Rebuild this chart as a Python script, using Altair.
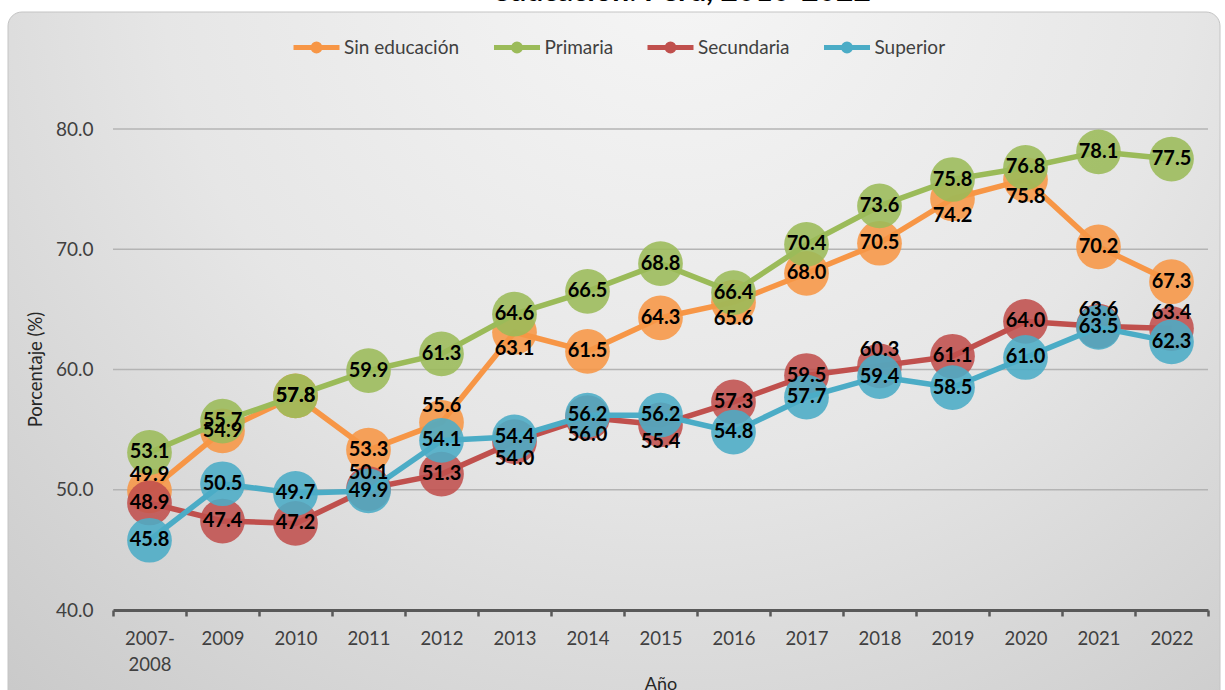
import altair as alt
import pandas as pd

# ---------------- data ----------------
years = ["2007-2008", "2009", "2010", "2011", "2012", "2013", "2014", "2015",
         "2016", "2017", "2018", "2019", "2020", "2021", "2022"]
series = ["Sin educación", "Primaria", "Secundaria", "Superior"]

sin_educacion = [49.9, 54.9, 57.8, 53.3, 55.6, 63.1, 61.5, 64.3, 65.6, 68.0, 70.5, 74.2, 75.8, 70.2, 67.3]
primaria = [53.1, 55.7, 57.8, 59.9, 61.3, 64.6, 66.5, 68.8, 66.4, 70.4, 73.6, 75.8, 76.8, 78.1, 77.5]
secundaria = [48.9, 47.4, 47.2, 50.1, 51.3, 54.0, 56.0, 55.4, 57.3, 59.5, 60.3, 61.1, 64.0, 63.6, 63.4]
superior = [45.8, 50.5, 49.7, 49.9, 54.1, 54.4, 56.2, 56.2, 54.8, 57.7, 59.4, 58.5, 61.0, 63.5, 62.3]

# label placement keyword per point (c = centred, a = above, b = below)
pos_sin = ["a", "c", "c", "c", "a", "b", "c", "c", "b", "c", "c", "b", "b", "c", "c"]
pos_pri = ["c"] * 15
pos_sec = ["c", "c", "c", "a", "c", "b", "b", "b", "c", "c", "a", "c", "c", "a", "a"]
pos_sup = ["c"] * 15

colors = ["#F79646", "#9BBB59", "#C0504D", "#4BACC6"]
title_text = "educación: Perú, 2010-2022"
y_ticks = [40, 50, 60, 70, 80]
grid_values = [50, 60, 70, 80]

values = [sin_educacion, primaria, secundaria, superior]
positions = [pos_sin, pos_pri, pos_sec, pos_sup]
rows = []
for s, vals, poss in zip(series, values, positions):
    for yr, v, p in zip(years, vals, poss):
        rows.append({"Año": yr, "Serie": s, "Valor": v, "Pos": p})
df = pd.DataFrame(rows)

# ---------------- layout ----------------
W, H = 1095, 481
PAD = {"left": 113, "top": 129, "right": 17, "bottom": 80}
FONT = "Lato"

x_enc = alt.X(
    "Año:N", sort=years,
    scale=alt.Scale(type="band", paddingInner=0, paddingOuter=0),
    axis=alt.Axis(
        title="Año", labelAngle=0,
        labelExpr="datum.value == '2007-2008' ? ['2007-', '2008'] : datum.value",
        labelFont=FONT, labelFontSize=18.5, labelColor="#404040", labelLineHeight=26,
        labelPadding=13, labelBaseline="top",
        tickBand="extent", ticks=True, tickSize=6, tickWidth=2.5, tickColor="#595959",
        domain=True, domainColor="#595959", domainWidth=3,
        grid=False, zindex=1,
        titleFont=FONT, titleFontSize=18, titleFontWeight="normal", titleColor="#262626",
        titleY=79, titleBaseline="alphabetic",
    ),
)
y_enc = alt.Y(
    "Valor:Q",
    scale=alt.Scale(domain=[40, 80], nice=False, zero=False),
    axis=alt.Axis(
        title="Porcentaje (%)", values=y_ticks, format=".1f",
        labelFont=FONT, labelFontSize=19, labelColor="#404040", labelPadding=20,
        ticks=False, tickSize=0, domain=False,
        grid=False, zindex=1,
        titleFont=FONT, titleFontSize=18.5, titleFontWeight="normal", titleColor="#262626",
        titleAngle=270, titleX=-78, titleY=240, titleAlign="center", titleBaseline="middle",
    ),
)

legend_path = ("M-1,0 L1,0 "
               "M0.15,0 A0.15,0.15 0 1,1 -0.15,0 A0.15,0.15 0 1,1 0.15,0 "
               "M0.05,0 A0.05,0.05 0 1,1 -0.05,0 A0.05,0.05 0 1,1 0.05,0")

color_enc = alt.Color(
    "Serie:N",
    scale=alt.Scale(domain=series, range=colors),
    legend=alt.Legend(
        orient="none", legendX=178, legendY=-107, direction="horizontal",
        title=None, symbolType=legend_path, symbolSize=2116, symbolStrokeWidth=5,
        labelFont=FONT, labelFontSize=19, labelColor="#404040", labelOffset=2,
        columnPadding=23.5, padding=0,
    ),
)
fill_enc = alt.Fill("Serie:N", scale=alt.Scale(domain=series, range=colors), legend=None)

# background panel
bg = alt.Chart(pd.DataFrame({"k": [0]})).mark_rect(
    cornerRadius=14,
    stroke="#c4c4c4", strokeWidth=1,
    color=alt.RadialGradient(
        gradient="radial",
        stops=[alt.GradientStop(color="#f6f6f6", offset=0),
               alt.GradientStop(color="#e6e6e6", offset=0.5),
               alt.GradientStop(color="#c8c8c8", offset=1)],
        x1=0.55, y1=0.15, r1=0, x2=0.55, y2=0.15, r2=0.85,
    ),
).encode(x=alt.value(-105), x2=alt.value(1107), y=alt.value(-117), y2=alt.value(600))

title_layer = alt.Chart(pd.DataFrame({"t": [title_text]})).mark_text(
    font=FONT, fontSize=30, fontWeight="bold", color="#000000",
    align="center", baseline="alphabetic",
).encode(x=alt.value(569), y=alt.value(-128), text="t:N")

grid = alt.Chart(pd.DataFrame({"Valor": grid_values})).mark_rule(
    color="#b4b4b4", strokeWidth=1.5
).encode(y=y_enc)

layers = [bg, title_layer, grid]
base = alt.Chart(df)
for s in series:
    sub = base.transform_filter(alt.datum.Serie == s)
    layers.append(sub.mark_line(strokeWidth=5.5, strokeJoin="round").encode(
        x=x_enc, y=y_enc, color=color_enc))
    layers.append(sub.mark_circle(size=2000, opacity=0.88, strokeWidth=0).encode(
        x=x_enc, y=y_enc, fill=fill_enc))

offsets = {"c": 0, "a": -16, "b": 17}
for p, dy in offsets.items():
    layers.append(base.transform_filter(alt.datum.Pos == p).mark_text(
        font=FONT, fontSize=20, fontWeight="bold", color="#000000",
        align="center", baseline="middle", dy=dy,
    ).encode(x=x_enc, y=y_enc, text=alt.Text("Valor:Q", format=".1f")))

chart = alt.layer(*layers).properties(
    width=W, height=H,
    autosize=alt.AutoSizeParams(type="none"),
    padding=PAD,
).configure_view(stroke="transparent").configure(background="white")

chart.save("out.html", embed_options={"renderer": "svg", "actions": False})
